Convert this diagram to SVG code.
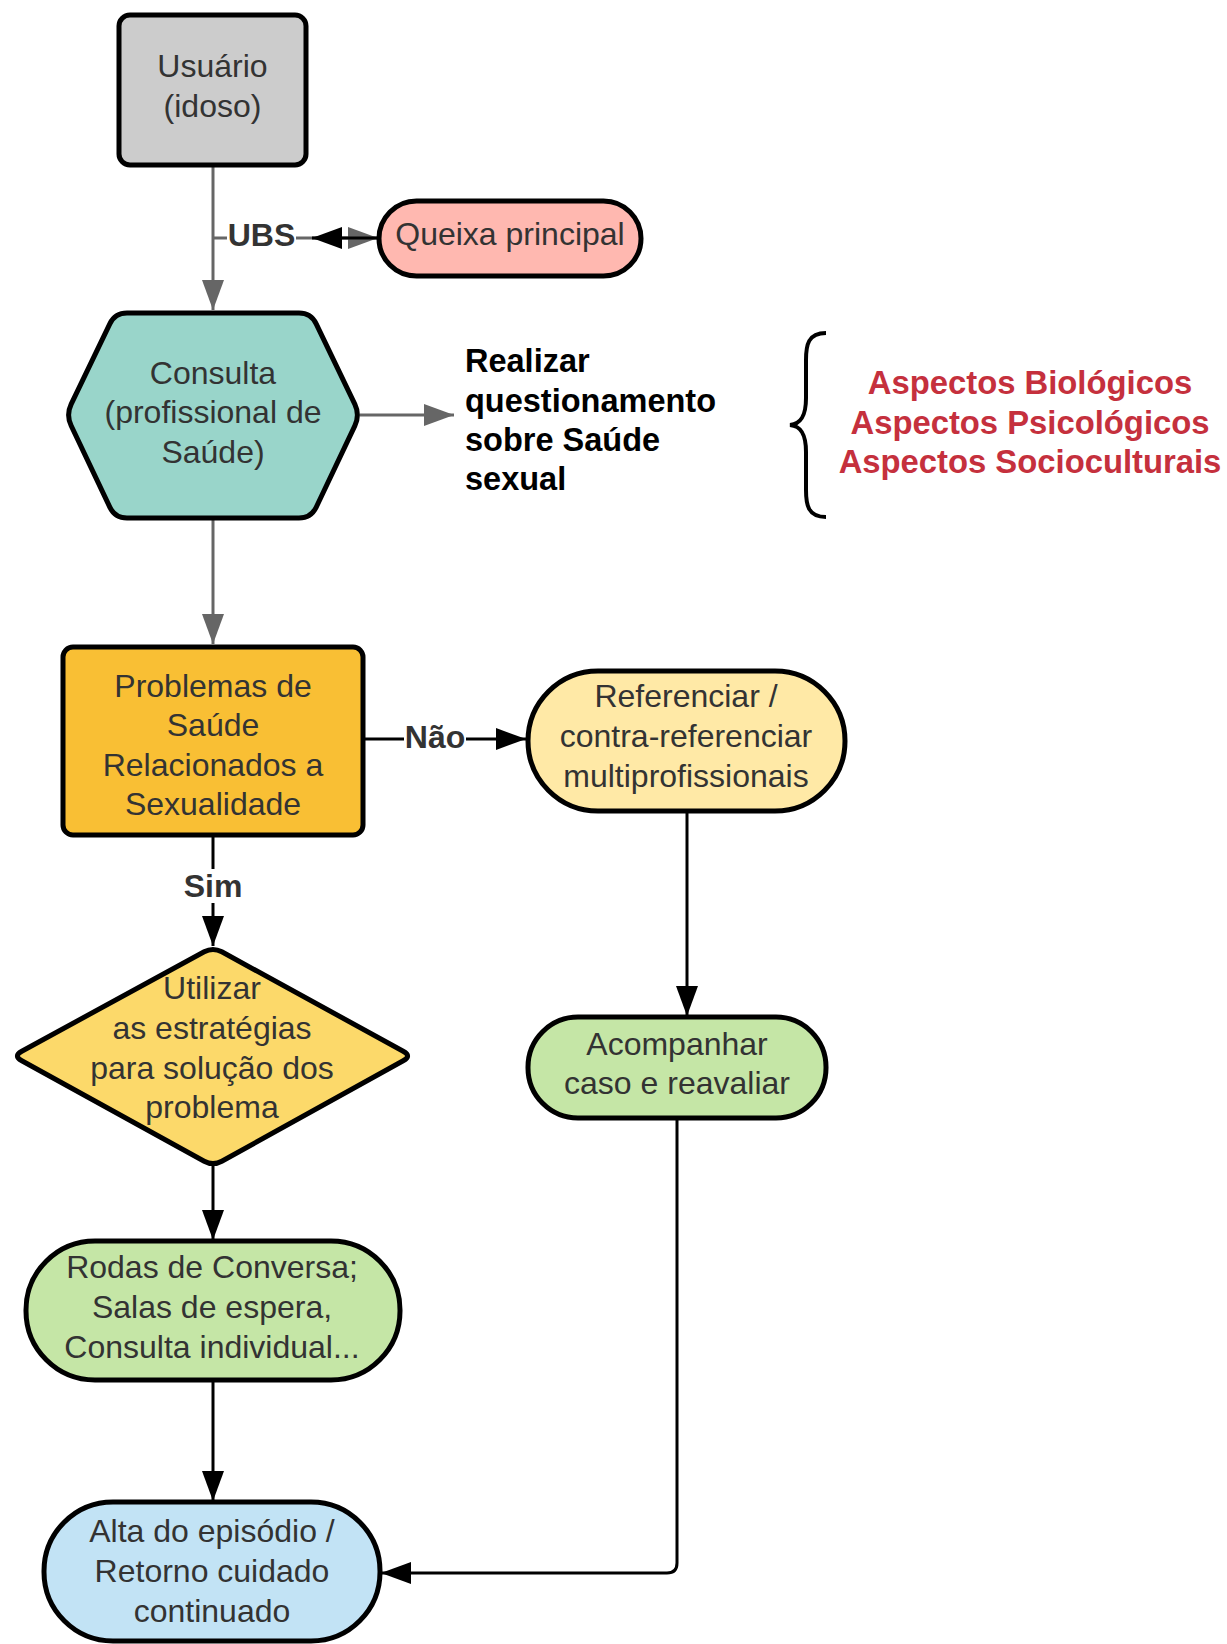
<svg xmlns="http://www.w3.org/2000/svg" width="1227" height="1644" viewBox="0 0 1227 1644">
<defs>
<style>
.node{stroke:#000;stroke-width:5;stroke-linejoin:round}
.t{font-family:"Liberation Sans",Arial,sans-serif;font-size:32px;fill:#333;text-anchor:middle}
.lbl{font-family:"Liberation Sans",Arial,sans-serif;font-size:32px;font-weight:bold;fill:#333;text-anchor:middle}
.bold{font-family:"Liberation Sans",Arial,sans-serif;font-size:32.5px;font-weight:bold;fill:#000}
.red{font-family:"Liberation Sans",Arial,sans-serif;font-size:32.8px;font-weight:bold;fill:#c5303d;text-anchor:middle}
.cg{fill:none;stroke:#666;stroke-width:3}
.cb{fill:none;stroke:#000;stroke-width:3}
</style>
<marker id="ag" markerUnits="userSpaceOnUse" markerWidth="32" markerHeight="24" refX="30" refY="11" orient="auto"><path d="M0,0 L30,11 L0,22 z" fill="#666"/></marker>
<marker id="ab" markerUnits="userSpaceOnUse" markerWidth="32" markerHeight="24" refX="30" refY="11" orient="auto"><path d="M0,0 L30,11 L0,22 z" fill="#000"/></marker>
</defs>
<rect width="1227" height="1644" fill="#fff"/>

<g id="connectors">
<path class="cg" d="M213,165 L213,310" marker-end="url(#ag)"/>
<path class="cg" d="M213,238 L378,238" marker-end="url(#ag)"/>
<path class="cb" d="M378,238 L312,238" marker-end="url(#ab)"/>
<path class="cg" d="M360,415 L454,415" marker-end="url(#ag)"/>
<path class="cg" d="M213,518 L213,644" marker-end="url(#ag)"/>
<path class="cb" d="M363,739 L526,739" marker-end="url(#ab)"/>
<path class="cb" d="M213,835 L213,946" marker-end="url(#ab)"/>
<path class="cb" d="M687,811 L687,1016" marker-end="url(#ab)"/>
<path class="cb" d="M213,1166 L213,1240" marker-end="url(#ab)"/>
<path class="cb" d="M213,1380 L213,1501" marker-end="url(#ab)"/>
<path class="cb" d="M677,1118 L677,1563 Q677,1573 667,1573 L381,1573" marker-end="url(#ab)"/>
<rect x="227" y="220" width="69" height="34" fill="#fff"/>
<text class="lbl" x="261.5" y="246">UBS</text>
<rect x="404" y="722" width="62" height="34" fill="#fff"/>
<text class="lbl" x="435" y="748">Não</text>
<rect x="182" y="869" width="62" height="34" fill="#fff"/>
<text class="lbl" x="213" y="897">Sim</text>
</g>

<g id="usuario">
<rect class="node" x="119" y="15" width="187" height="150" rx="11" fill="#cccccc"/>
<text class="t" x="212.5" y="77">Usuário</text>
<text class="t" x="212.5" y="117">(idoso)</text>
</g>

<g id="queixa">
<rect class="node" x="379" y="201" width="262" height="75" rx="37.5" fill="#ffb8b0"/>
<text class="t" x="510" y="245">Queixa principal</text>
</g>

<g id="consulta">
<path class="node" d="M127,313 L299,313 Q311,313 316.2,323.8 L354.8,404.2 Q360,415 354.8,425.8 L316.2,507.2 Q311,518 299,518 L127,518 Q115,518 109.8,507.2 L71.2,425.8 Q66,415 71.2,404.2 L109.8,323.8 Q115,313 127,313 Z" fill="#99d5ca"/>
<text class="t" x="213" y="384">Consulta</text>
<text class="t" x="213" y="423">(profissional de</text>
<text class="t" x="213" y="463">Saúde)</text>
</g>

<g id="realizar">
<text class="bold" x="465" y="372">Realizar</text>
<text class="bold" x="465" y="412">questionamento</text>
<text class="bold" x="465" y="451">sobre Saúde</text>
<text class="bold" x="465" y="490">sexual</text>
</g>

<g id="aspectos">
<path d="M826,333 C808,333 806,345 806,360 L806,398 C806,416 801,424 790,425 C801,426 806,434 806,452 L806,490 C806,505 808,517 826,517" fill="none" stroke="#000" stroke-width="4"/>
<text class="red" x="1030" y="394">Aspectos Biológicos</text>
<text class="red" x="1030" y="434">Aspectos Psicológicos</text>
<text class="red" x="1030" y="473">Aspectos Socioculturais</text>
</g>

<g id="problemas">
<rect class="node" x="63" y="647" width="300" height="188" rx="10" fill="#f9bf34"/>
<text class="t" x="213" y="697">Problemas de</text>
<text class="t" x="213" y="736">Saúde</text>
<text class="t" x="213" y="776">Relacionados a</text>
<text class="t" x="213" y="815">Sexualidade</text>
</g>

<g id="referenciar">
<rect class="node" x="528" y="671" width="317" height="140" rx="70" fill="#ffe9a6"/>
<text class="t" x="686" y="707">Referenciar /</text>
<text class="t" x="686" y="747">contra-referenciar</text>
<text class="t" x="686" y="787">multiprofissionais</text>
</g>

<g id="utilizar">
<path class="node" d="M221.8,951.8 L403.2,1051.2 Q412,1056 403.2,1060.8 L221.8,1161.2 Q213,1166 204.2,1161.2 L21.8,1060.8 Q13,1056 21.8,1051.2 L204.2,951.8 Q213,947 221.8,951.8 Z" fill="#fcd96a"/>
<text class="t" x="212" y="999">Utilizar</text>
<text class="t" x="212" y="1039">as estratégias</text>
<text class="t" x="212" y="1079">para solução dos</text>
<text class="t" x="212" y="1118">problema</text>
</g>

<g id="acompanhar">
<rect class="node" x="528" y="1017" width="298" height="101" rx="50" fill="#c5e6a6"/>
<text class="t" x="677" y="1055">Acompanhar</text>
<text class="t" x="677" y="1094">caso e reavaliar</text>
</g>

<g id="rodas">
<rect class="node" x="26" y="1241" width="374" height="139" rx="69" fill="#c5e6a6"/>
<text class="t" x="212" y="1278">Rodas de Conversa;</text>
<text class="t" x="212" y="1318">Salas de espera,</text>
<text class="t" x="212" y="1358">Consulta individual...</text>
</g>

<g id="alta">
<rect class="node" x="44" y="1502" width="336" height="139" rx="69" fill="#c2e3f5"/>
<text class="t" x="212" y="1542">Alta do episódio /</text>
<text class="t" x="212" y="1582">Retorno cuidado</text>
<text class="t" x="212" y="1622">continuado</text>
</g>
</svg>
